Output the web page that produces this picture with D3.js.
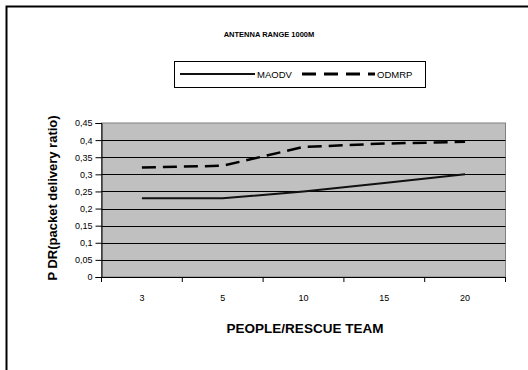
<!DOCTYPE html>
<html>
<head>
<meta charset="utf-8">
<script src="https://cdn.jsdelivr.net/npm/d3@7"></script>
<style>
  html, body { margin: 0; padding: 0; background: #fff; }
  svg { display: block; font-family: Arial, "Liberation Sans", sans-serif; }
</style>
</head>
<body>
<svg id="chart" width="528" height="370"></svg>
<script>
// ---- data ----
const categories = ["3", "5", "10", "15", "20"];
const maodv = [0.23, 0.23, 0.25, 0.275, 0.30];
const odmrp = [0.32, 0.325, 0.38, 0.39, 0.395];
const yTicks = [0, 0.05, 0.1, 0.15, 0.2, 0.25, 0.3, 0.35, 0.4, 0.45];
const seriesNames = ["MAODV", "ODMRP"];
const chartTitle = "ANTENNA RANGE 1000M";
const xTitle = "PEOPLE/RESCUE TEAM";
const yTitle = "P DR(packet delivery ratio)";

// ---- layout ----
const svg = d3.select("#chart");
const plot = { left: 101.5, right: 505.5, top: 123, bottom: 277 };

// outer frame (left and top lines)
svg.append("path")
  .attr("d", `M6.5,370 L6.5,6.5 L528,6.5`)
  .attr("fill", "none").attr("stroke", "#000").attr("stroke-width", 2);

const x = d3.scaleBand().domain(categories).range([plot.left, plot.right]).padding(0);
const y = d3.scaleLinear().domain([0, 0.45]).range([plot.bottom, plot.top]);

// plot background
svg.append("rect")
  .attr("x", plot.left).attr("y", plot.top)
  .attr("width", plot.right - plot.left).attr("height", plot.bottom - plot.top)
  .attr("fill", "#c0c0c0").attr("stroke", "#808080").attr("stroke-width", 1);

// gridlines
svg.append("g").selectAll("line")
  .data(yTicks.filter(v => v > 0 && v < 0.45))
  .join("line")
  .attr("x1", plot.left).attr("x2", plot.right)
  .attr("y1", d => Math.round(y(d)) + 0.5).attr("y2", d => Math.round(y(d)) + 0.5)
  .attr("stroke", "#000").attr("stroke-width", 1);

// y axis
const fmt = d => d === 0 ? "0" : String(d).replace(".", ",");
const yAxis = svg.append("g")
  .attr("transform", `translate(${plot.left},0)`)
  .call(d3.axisLeft(y).tickValues(yTicks).tickFormat(fmt).tickSize(6).tickPadding(3));
yAxis.select(".domain").attr("stroke", "#000");
yAxis.selectAll(".tick line").attr("stroke", "#000");
yAxis.selectAll(".tick text").attr("font-size", 9).attr("fill", "#000")
  .attr("font-family", "Arial, 'Liberation Sans', sans-serif");

// x axis (ticks at band edges)
const xAxisG = svg.append("g").attr("transform", `translate(0,${plot.bottom})`);
xAxisG.append("line")
  .attr("x1", plot.left).attr("x2", plot.right).attr("y1", 0.5).attr("y2", 0.5)
  .attr("stroke", "#000");
const edges = categories.map(c => x(c)).concat([x(categories[categories.length - 1]) + x.bandwidth()]);
xAxisG.selectAll("line.edge").data(edges).join("line").attr("class", "edge")
  .attr("x1", d => d).attr("x2", d => d).attr("y1", 0).attr("y2", 5)
  .attr("stroke", "#000");
xAxisG.selectAll("text").data(categories).join("text")
  .attr("x", d => x(d) + x.bandwidth() / 2).attr("y", 24)
  .attr("text-anchor", "middle").attr("font-size", 9).attr("fill", "#000")
  .text(d => d);

// lines
const line = d3.line().x((d, i) => x(categories[i]) + x.bandwidth() / 2).y(d => y(d));
svg.append("path").datum(maodv).attr("d", line)
  .attr("fill", "none").attr("stroke", "#111").attr("stroke-width", 2);
svg.append("path").datum(odmrp).attr("d", line)
  .attr("fill", "none").attr("stroke", "#000").attr("stroke-width", 2.5)
  .attr("stroke-dasharray", "14,7");

// title
svg.append("text").attr("x", 269).attr("y", 37)
  .attr("text-anchor", "middle").attr("font-size", 7.5).attr("font-weight", "bold")
  .text(chartTitle);

// legend
const lg = svg.append("g");
lg.append("rect").attr("x", 174.5).attr("y", 61.5).attr("width", 251).attr("height", 26)
  .attr("fill", "#fff").attr("stroke", "#000").attr("stroke-width", 1);
lg.append("line").attr("x1", 180).attr("x2", 255).attr("y1", 74).attr("y2", 74)
  .attr("stroke", "#111").attr("stroke-width", 2);
lg.append("text").attr("x", 257).attr("y", 77.5).attr("font-size", 9.5).text(seriesNames[0]);
lg.append("line").attr("x1", 302).attr("x2", 375).attr("y1", 74).attr("y2", 74)
  .attr("stroke", "#000").attr("stroke-width", 3).attr("stroke-dasharray", "14,8");
lg.append("text").attr("x", 377).attr("y", 77.5).attr("font-size", 9.5).text(seriesNames[1]);

// axis titles
svg.append("text").attr("x", 305).attr("y", 333)
  .attr("text-anchor", "middle").attr("font-size", 13.5).attr("font-weight", "bold")
  .text(xTitle);
svg.append("text")
  .attr("transform", "translate(57,198) rotate(-90)")
  .attr("text-anchor", "middle").attr("font-size", 13).attr("font-weight", "bold")
  .text(yTitle);
</script>
</body>
</html>
